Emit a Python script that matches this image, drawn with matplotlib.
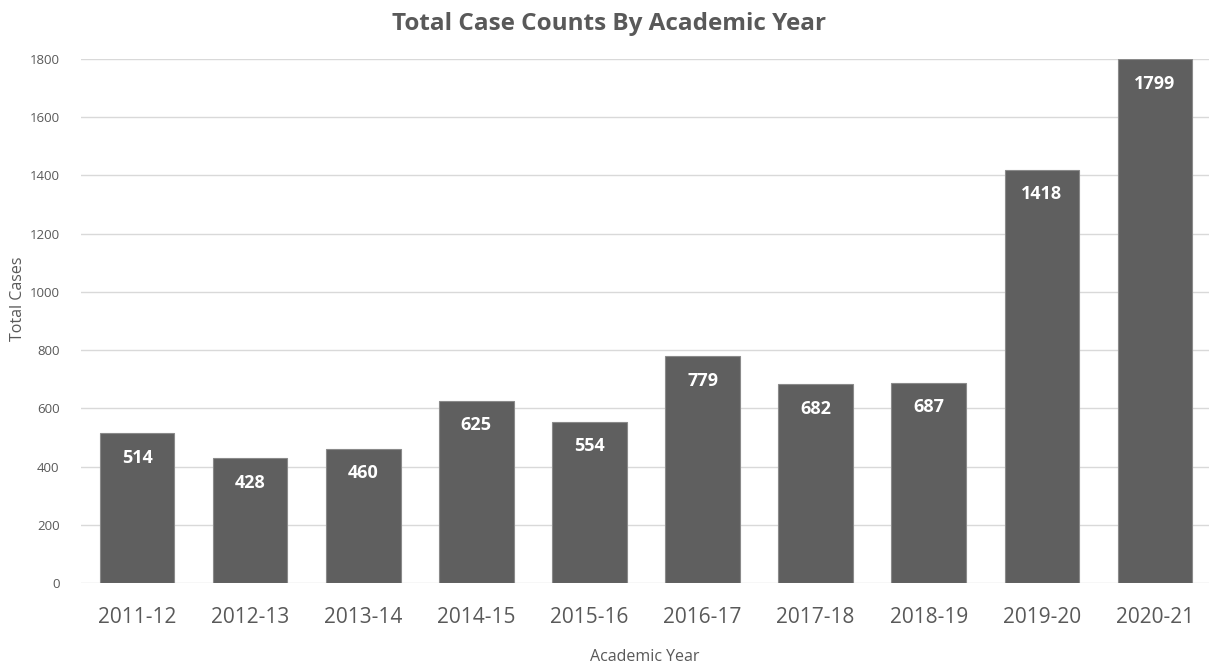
import matplotlib
matplotlib.use("Agg")
import matplotlib.pyplot as plt

years = ["2011-12", "2012-13", "2013-14", "2014-15", "2015-16",
         "2016-17", "2017-18", "2018-19", "2019-20", "2020-21"]
cases = [514, 428, 460, 625, 554, 779, 682, 687, 1418, 1799]
yticks = [0, 200, 400, 600, 800, 1000, 1200, 1400, 1600, 1800]

plt.rcParams['font.family'] = ['Open Sans', 'DejaVu Sans']
txt = '#595959'

fig = plt.figure(figsize=(12.09, 6.71), dpi=100)
ax = fig.add_axes([80.5/1209, 88/671, 1131/1209, 524/671])
x = list(range(len(years)))
bars = ax.bar(x, cases, width=0.66, color='#5f5f5f', edgecolor='#8a8a8a', linewidth=0.8, zorder=3)
for xi, v in zip(x, cases):
    ax.annotate(str(v), (xi, v), xytext=(0, -11), textcoords='offset points',
                ha='center', va='top', color='white', fontsize=13, fontweight='bold', zorder=4)

ax.set_xlim(-0.5, 9.5)
ax.set_ylim(0, 1800)
ax.set_yticks(yticks)
ax.set_yticklabels([str(t) for t in yticks], fontsize=9.5, color=txt)
ax.set_xticks(x)
ax.set_xticklabels(years, fontsize=15, color=txt)
ax.tick_params(axis='both', length=0)
ax.tick_params(axis='x', pad=17)
ax.tick_params(axis='y', pad=15)
ax.grid(axis='y', color='#d9d9d9', linewidth=1, zorder=0)
for s in ax.spines.values():
    s.set_visible(False)
fig.text(645/1209, 1 - 657/671, "Academic Year", ha='center', va='center',
         fontsize=11.5, color=txt)
fig.text(18/1209, 1 - 299/671, "Total Cases", ha='center', va='center', rotation=90,
         fontsize=11.5, color=txt)
fig.text(609/1209, 1 - 24/671, "Total Case Counts By Academic Year", ha='center', va='center',
         fontsize=17.5, fontweight='bold', color=txt)
fig.savefig("out.png", dpi=100, facecolor='white')
